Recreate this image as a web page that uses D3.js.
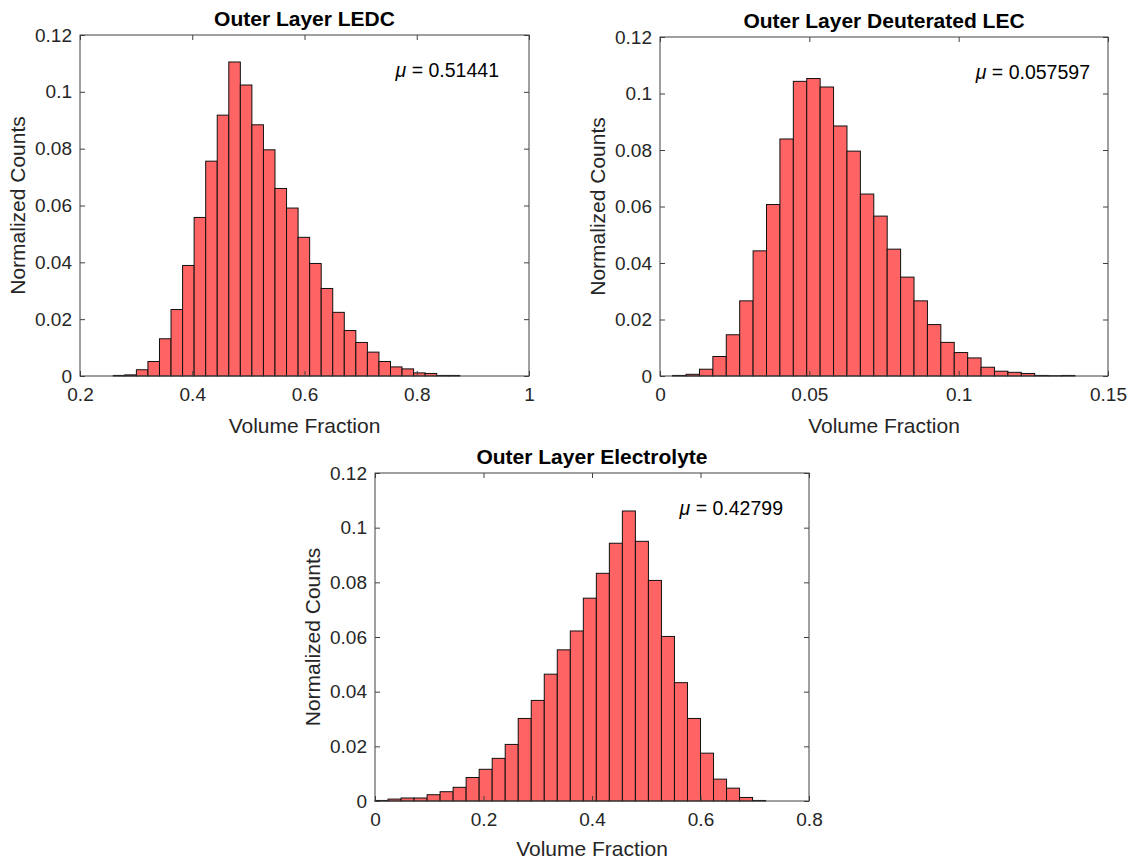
<!DOCTYPE html>
<html>
<head>
<meta charset="utf-8">
<script src="https://cdn.jsdelivr.net/npm/d3@7"></script>
<style>
  body { margin: 0; background: #fff; }
  text { font-family: "Liberation Sans", Arial, sans-serif; fill: #262626; }
</style>
</head>
<body>
<div id="plt"></div>
<script>
// normalized counts (30 bins each)
var ledcCounts = [0.0002, 0.0004, 0.0022, 0.0051, 0.0131, 0.0234, 0.0389, 0.0558, 0.0756, 0.0918,
                  0.1105, 0.1024, 0.0884, 0.0796, 0.0660, 0.0591, 0.0488, 0.0396, 0.0308, 0.0224,
                  0.0160, 0.0118, 0.0084, 0.0051, 0.0032, 0.0025, 0.0011, 0.0009, 0.0002, 0.0002];
var lecCounts = [0.0002, 0.0006, 0.0024, 0.0069, 0.0146, 0.0266, 0.0443, 0.0607, 0.0839, 0.1043,
                 0.1053, 0.1023, 0.0885, 0.0796, 0.0644, 0.0566, 0.0449, 0.0350, 0.0266, 0.0182,
                 0.0119, 0.0083, 0.0064, 0.0031, 0.0017, 0.0013, 0.0009, 0.0002, 0.0001, 0.0002];
var electrolyteCounts = [0.0002, 0.0007, 0.0011, 0.0011, 0.0023, 0.0034, 0.0050, 0.0086, 0.0116, 0.0156,
                         0.0207, 0.0302, 0.0368, 0.0464, 0.0553, 0.0622, 0.0742, 0.0833, 0.0943, 0.1061,
                         0.0950, 0.0807, 0.0602, 0.0433, 0.0302, 0.0175, 0.0080, 0.0047, 0.0013, 0.0002];

// bin layout (first edge, width)
var ledcBins = [0.2593, 0.02058];
var lecBins = [0.00423, 0.00449];
var electrolyteBins = [0, 0.024];

// tick values
var yTicks = [0, 0.02, 0.04, 0.06, 0.08, 0.1, 0.12];
var ledcXTicks = [0.2, 0.4, 0.6, 0.8, 1];
var lecXTicks = [0, 0.05, 0.1, 0.15];
var electrolyteXTicks = [0, 0.2, 0.4, 0.6, 0.8];

var titles = ["Outer Layer LEDC", "Outer Layer Deuterated LEC", "Outer Layer Electrolyte"];
var means = ["0.51441", "0.057597", "0.42799"];

var svg = d3.select("#plt")
            .append("svg")
            .attr("width", 1131)
            .attr("height", 859);

svg.append("rect").attr("width", 1131).attr("height", 859).attr("fill", "#fff");

var panels = [
  {box: {left: 80, right: 529, top: 35, bottom: 376}, counts: ledcCounts, bins: ledcBins,
   xDomain: [0.2, 1], xTicks: ledcXTicks, title: titles[0], mu: means[0], muRight: 30, xlab: 57},
  {box: {left: 660, right: 1108, top: 37, bottom: 376}, counts: lecCounts, bins: lecBins,
   xDomain: [0, 0.15], xTicks: lecXTicks, title: titles[1], mu: means[1], muRight: 18, xlab: 57},
  {box: {left: 375, right: 809, top: 473, bottom: 801}, counts: electrolyteCounts, bins: electrolyteBins,
   xDomain: [0, 0.8], xTicks: electrolyteXTicks, title: titles[2], mu: means[2], muRight: 26, xlab: 55}
];

var fmt = d3.format("~g");

panels.forEach(function(p) {
  var b = p.box;
  var x = d3.scaleLinear().domain(p.xDomain).range([b.left, b.right]);
  var y = d3.scaleLinear().domain([0, 0.12]).range([b.bottom, b.top]);

  // bars
  svg.append("g")
     .selectAll("rect")
     .data(p.counts)
     .enter()
     .append("rect")
     .attr("x", function(d, i) { return x(p.bins[0] + i * p.bins[1]); })
     .attr("width", function(d, i) { return x(p.bins[0] + (i + 1) * p.bins[1]) - x(p.bins[0] + i * p.bins[1]); })
     .attr("y", function(d) { return y(d); })
     .attr("height", function(d) { return y(0) - y(d); })
     .attr("fill", "#ff6464")
     .attr("stroke", "#111")
     .attr("stroke-width", 1);

  // axes, ticks inward on all four sides
  var gx = svg.append("g")
     .attr("transform", "translate(0," + b.bottom + ")")
     .call(d3.axisBottom(x).tickValues(p.xTicks).tickSize(-5).tickPadding(12).tickFormat(fmt));
  var gy = svg.append("g")
     .attr("transform", "translate(" + b.left + ",0)")
     .call(d3.axisLeft(y).tickValues(yTicks).tickSize(-5).tickPadding(8).tickFormat(fmt));
  var gt = svg.append("g")
     .attr("transform", "translate(0," + b.top + ")")
     .call(d3.axisTop(x).tickValues(p.xTicks).tickSize(-5).tickFormat(""));
  var gr = svg.append("g")
     .attr("transform", "translate(" + b.right + ",0)")
     .call(d3.axisRight(y).tickValues(yTicks).tickSize(-5).tickFormat(""));

  [gx, gy, gt, gr].forEach(function(g) {
    g.select(".domain").remove();
    g.selectAll("line").attr("stroke", "#404040");
    g.selectAll("text").style("font-size", "19px").attr("fill", "#262626")
     .style("font-family", "'Liberation Sans', Arial, sans-serif");
  });

  // box
  svg.append("rect")
     .attr("x", b.left).attr("y", b.top)
     .attr("width", b.right - b.left).attr("height", b.bottom - b.top)
     .attr("fill", "none").attr("stroke", "#404040").attr("stroke-width", 1);

  // title
  svg.append("text")
     .attr("x", (b.left + b.right) / 2)
     .attr("y", b.top - 9)
     .attr("text-anchor", "middle")
     .style("font-size", "21px")
     .style("font-weight", "bold")
     .style("fill", "#000")
     .text(p.title);

  // x label
  svg.append("text")
     .attr("x", (b.left + b.right) / 2)
     .attr("y", b.bottom + p.xlab)
     .attr("text-anchor", "middle")
     .style("font-size", "21px")
     .text("Volume Fraction");

  // y label
  svg.append("text")
     .attr("transform", "translate(" + (b.left - 55) + "," + ((b.top + b.bottom) / 2) + ")rotate(-90)")
     .attr("text-anchor", "middle")
     .style("font-size", "21px")
     .text("Normalized Counts");

  // mean annotation
  var mu = svg.append("text")
     .attr("x", b.right - p.muRight)
     .attr("y", b.top + 42)
     .attr("text-anchor", "end")
     .style("font-size", "19.5px")
     .style("fill", "#000");
  mu.append("tspan").style("font-style", "italic").text("\u03bc");
  mu.append("tspan").text(" = " + p.mu);
});
</script>
</body>
</html>
